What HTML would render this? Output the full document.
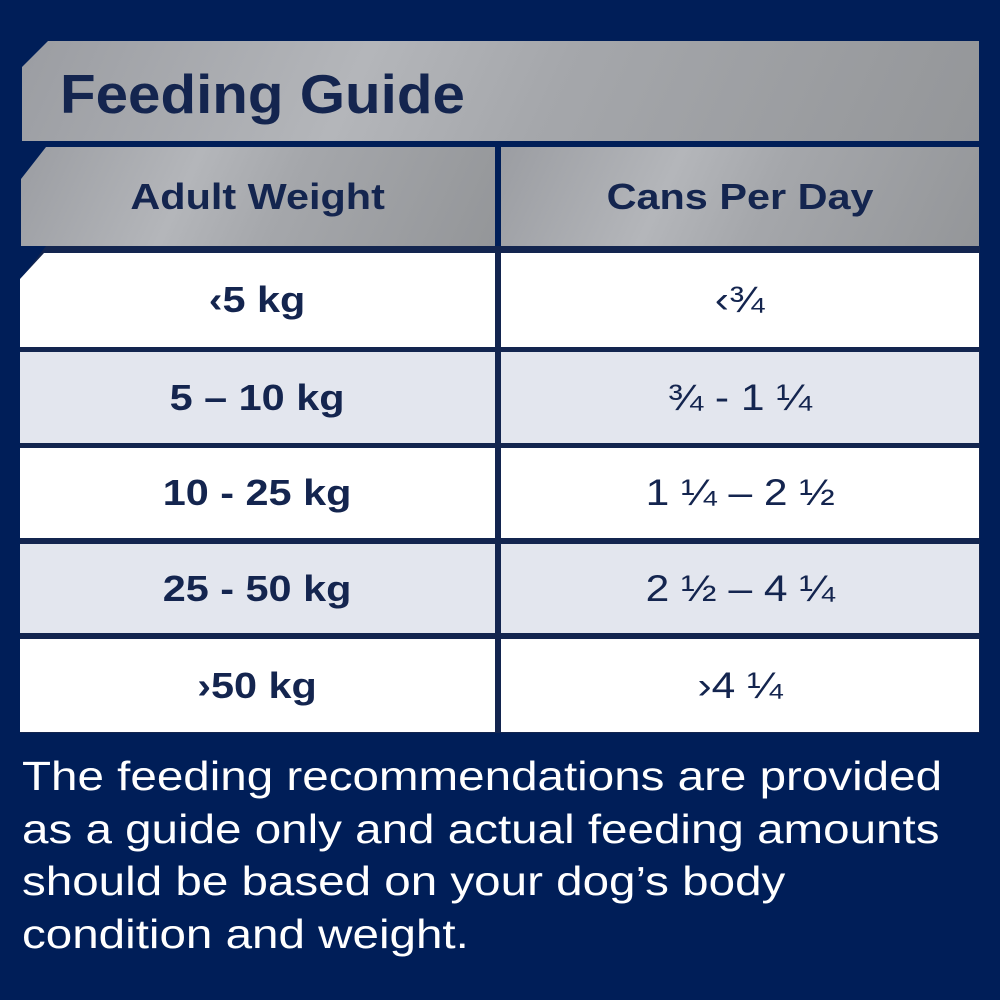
<!DOCTYPE html>
<html><head><meta charset="utf-8"><style>
body{margin:0;width:1000px;height:1000px;background:#001e58;position:relative;overflow:hidden;font-family:"Liberation Sans","DejaVu Sans",sans-serif;color:#14254f}
.b{position:absolute;display:flex;align-items:center;justify-content:center;box-sizing:border-box}
.silver{background:linear-gradient(115deg,#9b9da2 0%,#b4b6ba 35%,#a5a7ab 55%,#949699 100%)}
.w{background:#fff}.g{background:#e3e6ee}
.lines{position:absolute;background:#13254f}
.t{font-weight:bold;font-size:36px}
.r{font-size:37px}
.s{display:inline-block;transform:scaleX(1.15)}
</style></head><body>
<div class="b silver" style="left:22px;top:41px;width:957px;height:100px;justify-content:flex-start;padding-left:38px;clip-path:polygon(26px 0,100% 0,100% 100%,0 100%,0 26px)"><span style="font-weight:bold;font-size:55px;color:#14254f;display:inline-block;transform:scaleX(1.06);transform-origin:left center;margin-top:6px">Feeding Guide</span></div>
<div class="b silver t" style="left:21px;top:147px;width:474px;height:99px;clip-path:polygon(25px 0,100% 0,100% 100%,0 100%,0 32px)"><span class="s">Adult Weight</span></div>
<div class="b silver t" style="left:501px;top:147px;width:478px;height:99px"><span class="s">Cans Per Day</span></div>
<div class="lines" style="left:20px;top:246px;width:960px;height:487px"></div>
<div style="position:absolute;left:20px;top:246px;width:26px;height:34px;background:#001e58;clip-path:polygon(0 0,100% 0,0 100%)"></div>
<div class="b w t" style="left:20px;top:253px;width:475px;height:94px;clip-path:polygon(24px 0,100% 0,100% 100%,0 100%,0 26px)"><span class="s">‹5 kg</span></div>
<div class="b w r" style="left:501px;top:253px;width:478px;height:94px"><span class="s">‹¾</span></div>
<div class="b g t" style="left:20px;top:352px;width:475px;height:91px"><span class="s">5 – 10 kg</span></div>
<div class="b g r" style="left:501px;top:352px;width:478px;height:91px"><span class="s">¾ - 1 ¼</span></div>
<div class="b w t" style="left:20px;top:448px;width:475px;height:90px"><span class="s">10 - 25 kg</span></div>
<div class="b w r" style="left:501px;top:448px;width:478px;height:90px"><span class="s">1 ¼ – 2 ½</span></div>
<div class="b g t" style="left:20px;top:544px;width:475px;height:89px"><span class="s">25 - 50 kg</span></div>
<div class="b g r" style="left:501px;top:544px;width:478px;height:89px"><span class="s">2 ½ – 4 ¼</span></div>
<div class="b w t" style="left:20px;top:639px;width:475px;height:93px"><span class="s">›50 kg</span></div>
<div class="b w r" style="left:501px;top:639px;width:478px;height:93px"><span class="s">›4 ¼</span></div>
<div style="position:absolute;left:22px;top:750px;width:960px;color:#fff;font-size:41px;line-height:52.5px;transform:scaleX(1.16);transform-origin:left top;white-space:nowrap">The feeding recommendations are provided<br>as a guide only and actual feeding amounts<br>should be based on your dog’s body<br>condition and weight.</div>
</body></html>
